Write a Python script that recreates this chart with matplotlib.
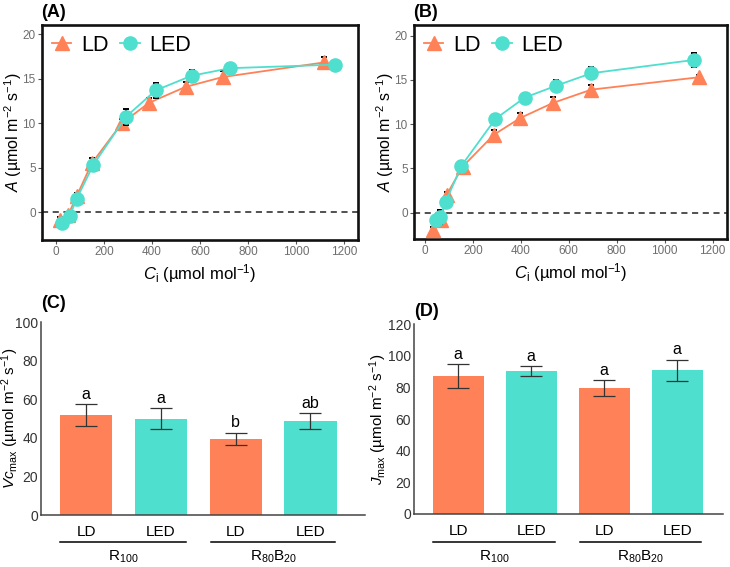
import matplotlib
matplotlib.use("Agg")
import matplotlib.pyplot as plt
import matplotlib.transforms as mtransforms

plt.rcParams['font.family'] = ['Liberation Sans', 'DejaVu Sans']
plt.rcParams['mathtext.fontset'] = 'custom'
plt.rcParams['mathtext.rm'] = 'Liberation Sans'
plt.rcParams['mathtext.it'] = 'Liberation Sans:italic'
plt.rcParams['mathtext.bf'] = 'Liberation Sans:bold'

LD_COL = '#FF8157'
LED_COL = '#4EDFCE'

# --- A/Ci curves, panel A
a_ld_x = [17, 51, 86, 149, 274, 387, 540, 694, 1117]
a_ld_y = [-0.85, -0.3, 1.8, 5.5, 10.0, 12.3, 14.1, 15.2, 16.85]
a_ld_e = [0.3, 0.4, 0.4, 0.6, 0.5, 0.6, 0.6, 0.7, 0.6]
a_led_x = [24, 58, 86, 155, 292, 415, 565, 725, 1162]
a_led_y = [-1.15, -0.4, 1.5, 5.3, 10.75, 13.7, 15.35, 16.2, 16.6]
a_led_e = [0.3, 0.3, 0.3, 0.6, 0.9, 0.8, 0.7, 0.5, 0.3]

# --- panel B
b_ld_x = [35, 67, 90, 157, 287, 398, 534, 694, 1144]
b_ld_y = [-1.95, -0.8, 2.0, 5.2, 8.8, 10.7, 12.4, 13.9, 15.3]
b_ld_e = [0.3, 0.5, 0.3, 0.6, 0.5, 0.6, 0.7, 0.5, 0.3]
b_led_x = [44, 62, 86, 152, 294, 416, 548, 694, 1121]
b_led_y = [-0.8, -0.5, 1.2, 5.3, 10.6, 13.0, 14.35, 15.75, 17.25]
b_led_e = [0.3, 0.8, 0.3, 0.5, 0.5, 0.5, 0.6, 0.7, 0.8]

# --- bar panels
bar_labels = ['LD', 'LED', 'LD', 'LED']
groups = [r'R$_{100}$', r'R$_{80}$B$_{20}$']
vc_vals = [51.9, 50.0, 39.4, 48.8]
vc_err = [5.6, 5.5, 3.3, 4.0]
vc_sig = ['a', 'a', 'b', 'ab']
j_vals = [87.3, 90.4, 79.7, 90.9]
j_err = [7.6, 3.0, 4.9, 6.7]
j_sig = ['a', 'a', 'a', 'a']

fig = plt.figure(figsize=(7.3, 5.67), dpi=100)

def curve_panel(rect, ld, led, tag, xlim, ylim, ylab_x):
    ax = fig.add_axes(rect)
    for (x, y, e, col, mk, ms, z) in [(ld[0], ld[1], ld[2], LD_COL, '^', 10, 3),
                                       (led[0], led[1], led[2], LED_COL, 'o', 9.5, 5)]:
        ax.errorbar(x, y, yerr=e, fmt='none', ecolor='black', elinewidth=1.4,
                    capsize=2.2, capthick=1.4, zorder=z - 1)
        ax.plot(x, y, color=col, lw=1.3, marker=mk, ms=ms, zorder=z,
                label='LD' if mk == '^' else 'LED')
    ax.axhline(0, color='#222222', ls=(0, (4, 3)), lw=1.1, zorder=1)
    ax.set_xlim(*xlim)
    ax.set_ylim(*ylim)
    ax.set_xticks([0, 200, 400, 600, 800, 1000, 1200])
    ax.set_yticks([0, 5, 10, 15, 20])
    ax.tick_params(labelsize=8.5, colors='#555555', labelcolor='#6e6e6e',
                   length=3, width=0.8, pad=1.5)
    for s in ax.spines.values():
        s.set_linewidth(1.9)
        s.set_color('#111111')
    ax.set_xlabel(r'$\mathit{C}_{\mathrm{i}}$ (µmol mol$^{-1}$)', fontsize=12, labelpad=3)
    ax.set_ylabel(r'$\mathit{A}$ (µmol m$^{-2}$ s$^{-1}$)', fontsize=11.5, va='center')
    ax.yaxis.set_label_coords(ylab_x, 0.5)
    ax.legend(loc='upper left', bbox_to_anchor=(-0.03, 1.045), ncol=2, frameon=False,
              fontsize=15.5, handlelength=0.9, handletextpad=0.45, columnspacing=0.55)
    ax.text(-0.003, 1.02, tag, transform=ax.transAxes, fontsize=13, fontweight='bold',
            ha='left', va='bottom')
    return ax

curve_panel([0.0575, 0.5767, 0.4329, 0.3792], (a_ld_x, a_ld_y, a_ld_e),
            (a_led_x, a_led_y, a_led_e), '(A)', (-58, 1258), (-3.1, 21.05), -0.092)
curve_panel([0.5671, 0.5785, 0.4284, 0.3774], (b_ld_x, b_ld_y, b_ld_e),
            (b_led_x, b_led_y, b_led_e), '(B)', (-46, 1259), (-2.97, 21.2), -0.093)

def bar_panel(rect, vals, errs, sig, ymax, ystep, ylabel, tag, xlim, line_y, grp_y,
              tag_y, ylab_x):
    ax = fig.add_axes(rect)
    xs = list(range(len(vals)))
    cols = [LD_COL, LED_COL, LD_COL, LED_COL]
    ax.bar(xs, vals, width=0.7, color=cols, zorder=2)
    ax.errorbar(xs, vals, yerr=errs, fmt='none', ecolor='#333333', elinewidth=0.9,
                capsize=8, capthick=0.9, zorder=3)
    for x, v, e, s in zip(xs, vals, errs, sig):
        ax.text(x, v + e + ymax * 0.012, s, ha='center', va='bottom', fontsize=11.5)
    ax.set_xlim(*xlim)
    ax.set_ylim(0, ymax)
    ax.set_yticks(range(0, ymax + 1, ystep))
    ax.set_xticks(xs)
    ax.set_xticklabels(bar_labels)
    ax.tick_params(axis='x', length=0, pad=7, labelsize=11)
    ax.tick_params(axis='y', length=0, pad=2, labelsize=10, labelcolor='#333333')
    for side in ['top', 'right']:
        ax.spines[side].set_visible(False)
    for side in ['left', 'bottom']:
        ax.spines[side].set_linewidth(1.1)
        ax.spines[side].set_color('#444444')
    ax.set_ylabel(ylabel, fontsize=11, va='center')
    ax.yaxis.set_label_coords(ylab_x, 0.5)
    trans = mtransforms.blended_transform_factory(ax.transData, ax.transAxes)
    for g, (x0, x1) in enumerate([(-0.35, 1.33), (1.67, 3.33)]):
        ax.plot([x0, x1], [line_y, line_y], color='black', lw=1.1, transform=trans,
                clip_on=False)
        ax.text((x0 + x1) / 2, grp_y, groups[g], transform=trans, ha='center',
                va='center', fontsize=11)
    ax.text(0.0, tag_y, tag, transform=ax.transAxes, fontsize=13, fontweight='bold',
            ha='left', va='bottom')
    return ax

bar_panel([0.0558, 0.0917, 0.4442, 0.3399], vc_vals, vc_err, vc_sig, 100, 20,
          r'$\mathit{Vc}_{\mathrm{max}}$ (µmol m$^{-2}$ s$^{-1}$)', '(C)',
          (-0.61, 3.73), -0.139, -0.216, 1.055, -0.095)
bar_panel([0.5671, 0.0935, 0.4237, 0.3345], j_vals, j_err, j_sig, 120, 20,
          r'$\mathit{J}_{\mathrm{max}}$ (µmol m$^{-2}$ s$^{-1}$)', '(D)',
          (-0.607, 3.63), -0.146, -0.225, 1.025, -0.117)

fig.savefig('out.png', dpi=100)
